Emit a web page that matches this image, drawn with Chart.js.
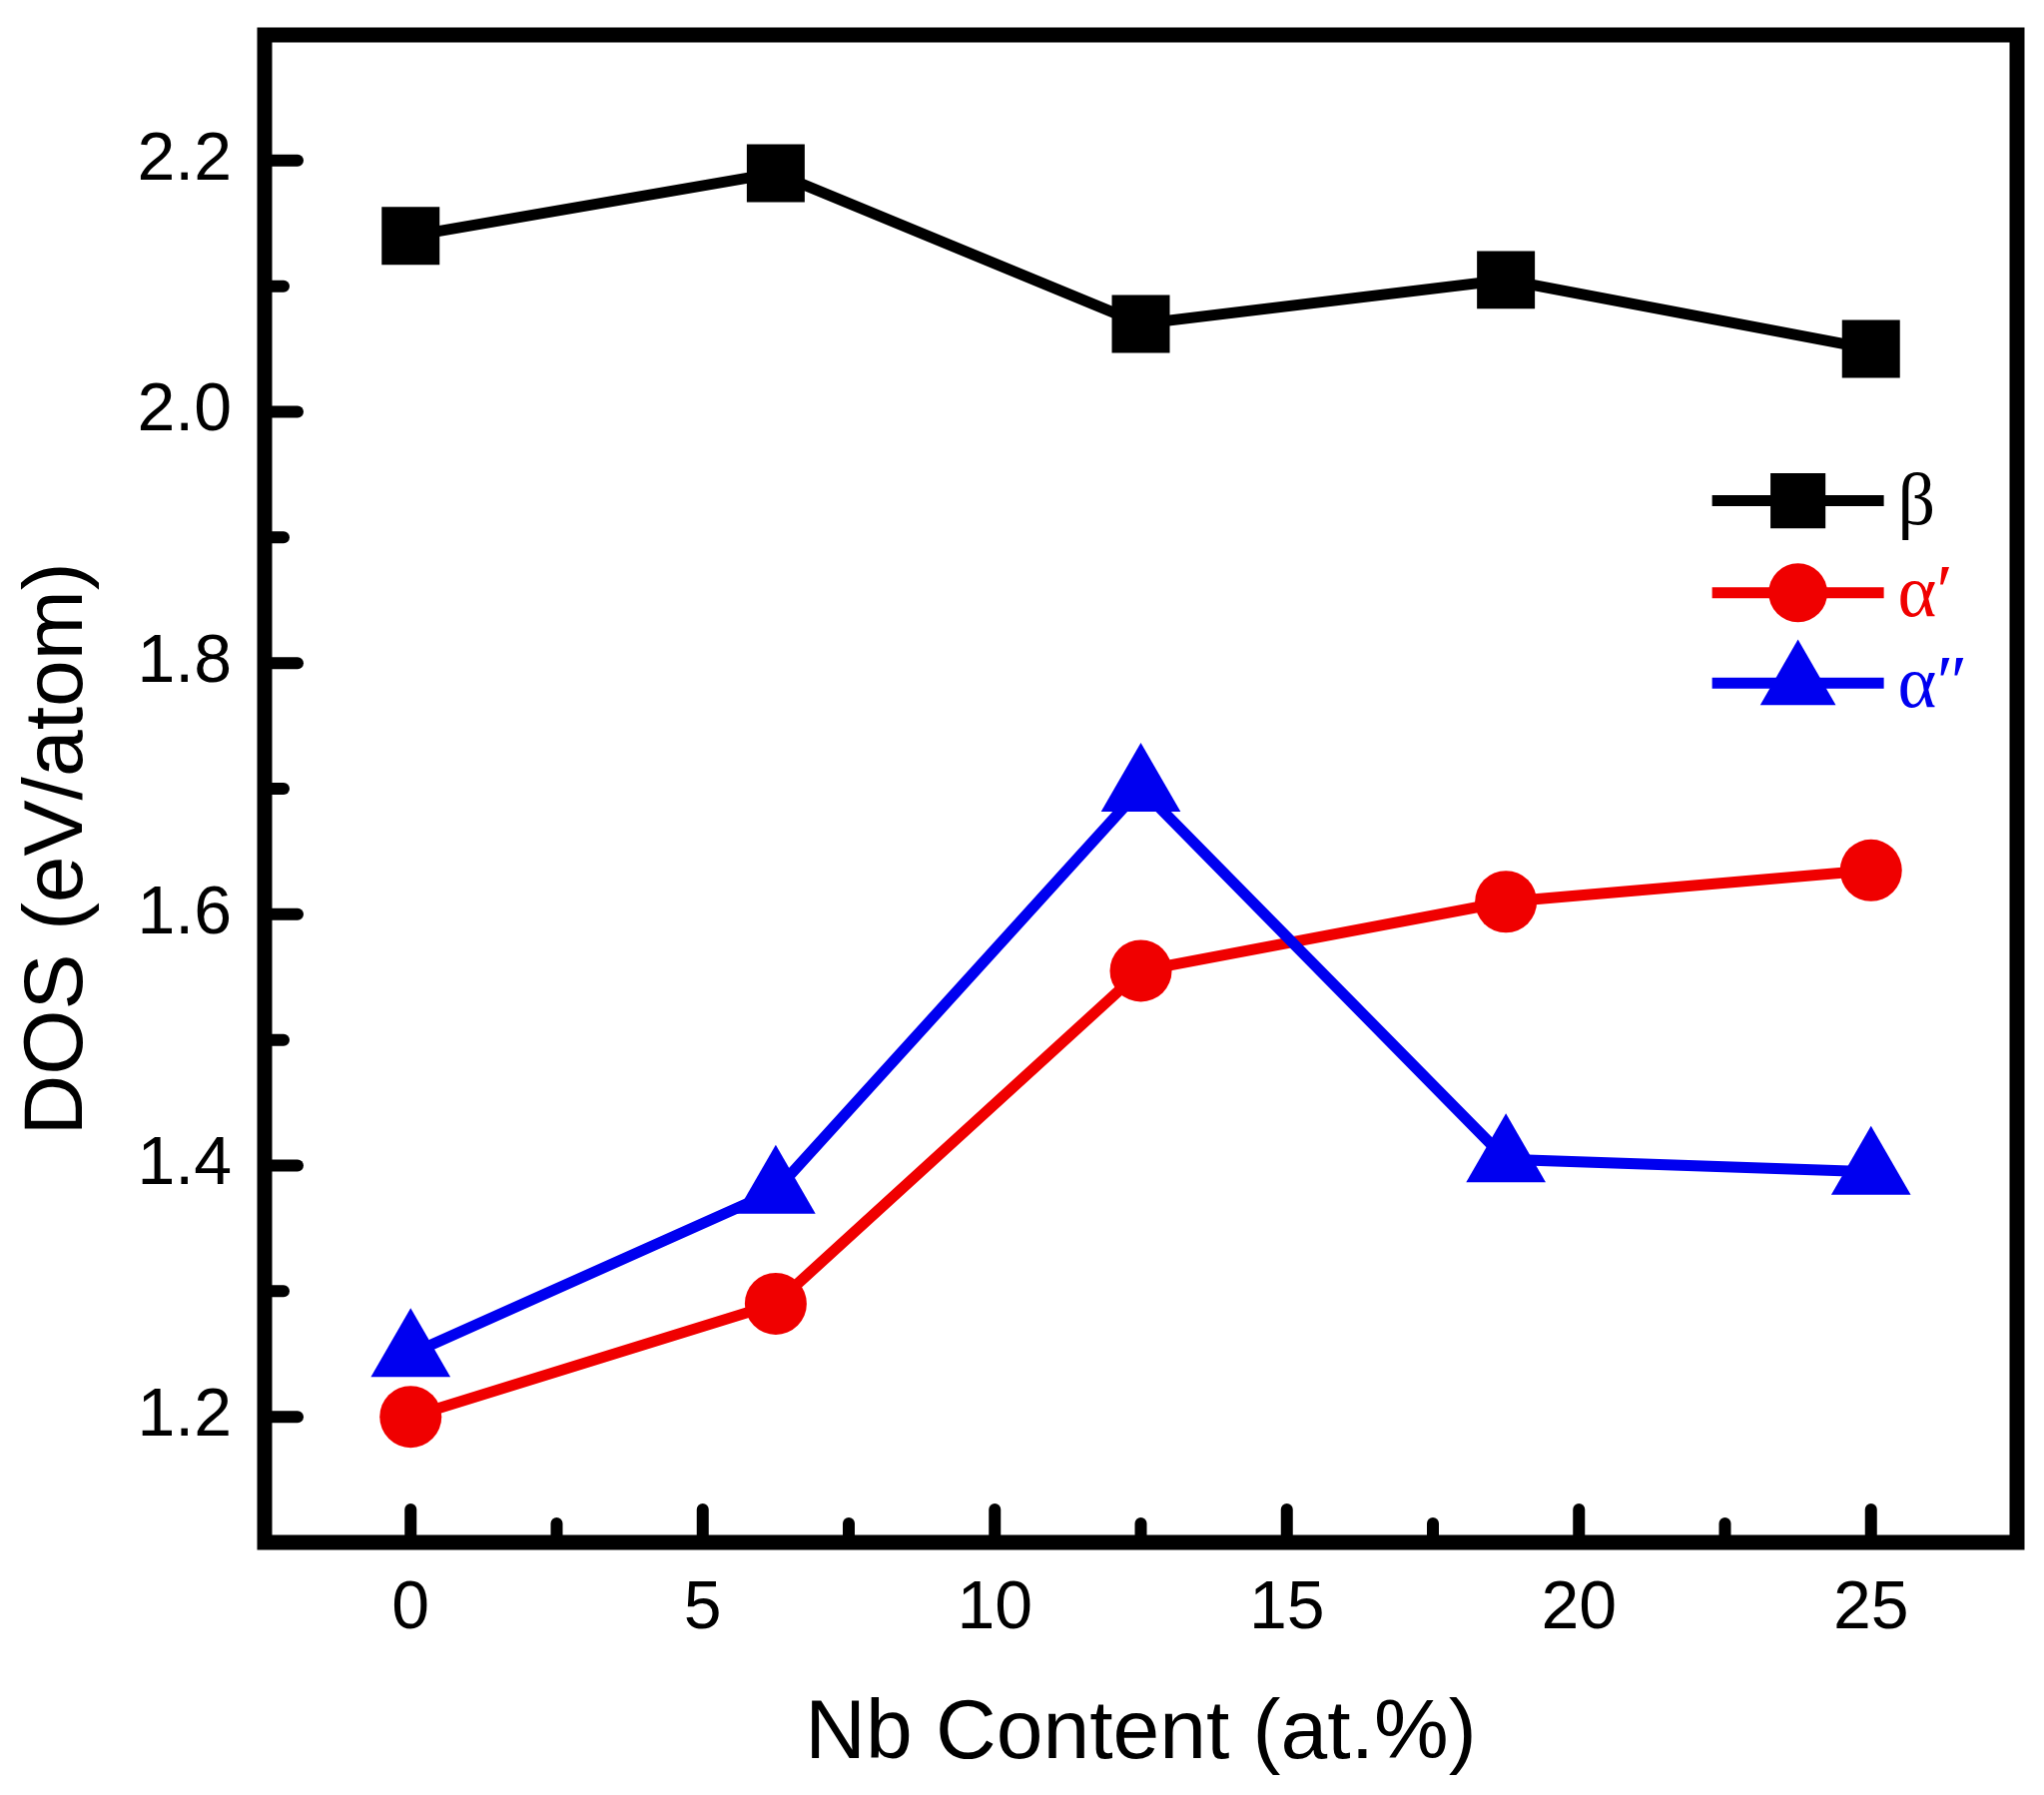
<!DOCTYPE html>
<html>
<head>
<meta charset="utf-8">
<script src="https://cdn.jsdelivr.net/npm/chart.js@4.4.0/dist/chart.umd.min.js"></script>
<style>
  html, body { margin: 0; padding: 0; background: #fff; }
  #wrap { width: 2047px; height: 1798px; position: relative; }
</style>
</head>
<body>
<div id="wrap"><canvas id="dosChart"></canvas></div>
<script>
  // Nb content (at.%)
  const nbContent = [0, 6.25, 12.5, 18.75, 25];
  // DOS values (eV/atom)
  const betaDos = [2.14, 2.19, 2.07, 2.105, 2.05];
  const alphaPrimeDos = [1.20, 1.29, 1.555, 1.61, 1.635];
  const alphaDoublePrimeDos = [1.25, 1.38, 1.70, 1.405, 1.395];

  const seriesNames = ["\u03b2", "\u03b1\u2032", "\u03b1\u2033"];
  const seriesColors = ["#000000", "#f00000", "#0000f0"];
  const seriesMarkers = ["rect", "circle", "triangle"];

  const xMajorTicks = [0, 5, 10, 15, 20, 25];
  const xMinorTicks = [2.5, 7.5, 12.5, 17.5, 22.5];
  const yMajorTicks = [1.2, 1.4, 1.6, 1.8, 2.0, 2.2];
  const yMinorTicks = [1.3, 1.5, 1.7, 1.9, 2.1];

  const xTitle = "Nb Content (at.%)";
  const yTitle = "DOS (eV/atom)";

  const FONT = "'Liberation Sans', Arial, sans-serif";
  const markerRadius = { rect: 41, circle: 31, triangle: 46 };

  const toPoints = ys => nbContent.map((x, i) => ({ x: x, y: ys[i] }));
  const allSeries = [betaDos, alphaPrimeDos, alphaDoublePrimeDos];

  const datasets = allSeries.map((ys, i) => ({
    label: seriesNames[i],
    data: toPoints(ys),
    borderColor: seriesColors[i],
    backgroundColor: seriesColors[i],
    borderWidth: 11,
    pointStyle: seriesMarkers[i],
    pointRadius: markerRadius[seriesMarkers[i]],
    pointBorderWidth: 0,
    pointBackgroundColor: seriesColors[i],
    order: 2 - i,
    tension: 0,
    clip: false
  }));

  // marker drawing for the legend (same geometry as Chart.js)
  function drawMarker(ctx, style, r, x, y) {
    ctx.beginPath();
    if (style === "rect") {
      const s = Math.SQRT1_2 * r;
      ctx.rect(x - s, y - s, 2 * s, 2 * s);
    } else if (style === "circle") {
      ctx.arc(x, y, r, 0, Math.PI * 2);
    } else {
      ctx.moveTo(x, y - r);
      ctx.lineTo(x + Math.sin(Math.PI / 3) * r, y + r / 2);
      ctx.lineTo(x - Math.sin(Math.PI / 3) * r, y + r / 2);
      ctx.closePath();
    }
    ctx.fill();
  }

  const framePlugin = {
    id: "frame",
    afterDraw(chart) {
      const { ctx, chartArea: a, scales: { x, y } } = chart;
      const w = a.right - a.left, h = a.bottom - a.top;
      ctx.save();
      ctx.strokeStyle = "#000";
      ctx.lineCap = "round";
      // inward ticks
      const half = 7;
      const tick = (px, len, vertical) => {
        ctx.beginPath();
        if (vertical) { ctx.moveTo(px, a.bottom - half); ctx.lineTo(px, a.bottom - half - len); }
        else { ctx.moveTo(a.left + half, px); ctx.lineTo(a.left + half + len, px); }
        ctx.stroke();
      };
      ctx.lineWidth = 12;
      xMajorTicks.forEach(v => tick(x.getPixelForValue(v), 26, true));
      yMajorTicks.forEach(v => tick(y.getPixelForValue(v), 26, false));
      xMinorTicks.forEach(v => tick(x.getPixelForValue(v), 12, true));
      yMinorTicks.forEach(v => tick(y.getPixelForValue(v), 12, false));
      // frame
      ctx.lineCap = "butt";
      ctx.lineJoin = "miter";
      ctx.lineWidth = 15;
      ctx.strokeRect(a.left, a.top, w, h);

      // y axis title (sits a bit below the axis centre in the original)
      ctx.save();
      ctx.translate(59, a.top + h * 0.54);
      ctx.rotate(-Math.PI / 2);
      ctx.font = "84px " + FONT;
      ctx.fillStyle = "#000";
      ctx.textAlign = "center";
      ctx.textBaseline = "middle";
      ctx.fillText(yTitle, 0, 0);
      ctx.restore();

      // legend
      const lx0 = a.left + w * 0.826;
      const lx1 = a.left + w * 0.924;
      const mx = (lx0 + lx1) / 2;
      const rows = [0.309, 0.370, 0.430].map(f => a.top + h * f);
      rows.forEach((ry, i) => {
        ctx.strokeStyle = seriesColors[i];
        ctx.fillStyle = seriesColors[i];
        ctx.lineWidth = 11;
        ctx.beginPath();
        ctx.moveTo(lx0, ry);
        ctx.lineTo(lx1, ry);
        ctx.stroke();
        drawMarker(ctx, seriesMarkers[i], markerRadius[seriesMarkers[i]] * 0.95, mx, ry);
        ctx.font = "74px 'Liberation Serif', 'Times New Roman', serif";
        ctx.textAlign = "left";
        ctx.textBaseline = "middle";
        ctx.fillText(seriesNames[i], lx1 + 14, ry + 4);
      });
      ctx.restore();
    }
  };

  new Chart("dosChart", {
    type: "line",
    data: { datasets: datasets },
    plugins: [framePlugin],
    options: {
      responsive: true,
      maintainAspectRatio: false,
      animation: false,
      devicePixelRatio: 1,
      layout: { autoPadding: false, padding: { top: 35, right: 27, left: 0, bottom: 0 } },
      plugins: { legend: { display: false }, tooltip: { enabled: false } },
      scales: {
        x: {
          type: "linear",
          min: -2.5,
          max: 27.5,
          afterFit(scale) { scale.height = 1798 - 1545; scale.paddingLeft = 0; scale.paddingRight = 0; },
          afterBuildTicks(scale) { scale.ticks = xMajorTicks.map(v => ({ value: v })); },
          grid: { display: false, drawTicks: false },
          border: { display: false },
          ticks: {
            color: "#000",
            padding: 26,
            font: { family: FONT, size: 68 },
            callback: v => String(v)
          },
          title: {
            display: true,
            text: xTitle,
            color: "#000",
            font: { family: FONT, size: 84 },
            padding: { top: 0, bottom: 10 }
          }
        },
        y: {
          type: "linear",
          min: 1.1,
          max: 2.3,
          afterFit(scale) { scale.width = 265; scale.paddingTop = 0; scale.paddingBottom = 0; },
          afterBuildTicks(scale) { scale.ticks = yMajorTicks.map(v => ({ value: v })); },
          grid: { display: false, drawTicks: false },
          border: { display: false },
          ticks: {
            color: "#000",
            padding: 33,
            font: { family: FONT, size: 68 },
            callback: v => Number(v).toFixed(1)
          },
          title: { display: false }
        }
      }
    }
  });
</script>
</body>
</html>
